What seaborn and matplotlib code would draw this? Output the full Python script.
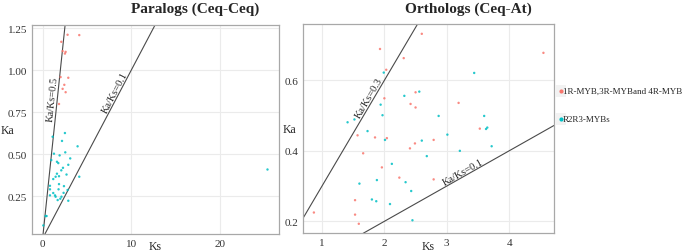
import numpy as np
import pandas as pd
import matplotlib
matplotlib.use("Agg")
import matplotlib.pyplot as plt
from matplotlib.patches import Rectangle
import seaborn as sns

# Groups
groups = ['1R-MYB,3R-MYBand 4R-MYB', 'R2R3-MYBs']
colors = ['#F8766D', '#00BFC4']

# Paralogs (Ceq-Ceq)
para_ks_other = [2.82, 4.14, 2.11, 2.26, 2.60, 2.52, 2.03, 2.90, 2.45, 2.26, 2.60, 1.85]
para_ka_other = [1.212, 1.21, 1.17, 1.115, 1.11, 1.10, 0.96, 0.956, 0.914, 0.89, 0.87, 0.80]
para_ks_r2r3 = [2.52, 1.13, 2.19, 3.95, 2.56, 1.28, 1.92, 3.12, 0.98, 1.62, 1.77, 2.90,
                2.30, 2.11, 4.14, 2.70, 1.62, 1.85, 1.47, 1.20, 1.85, 0.83, 2.41, 0.83,
                1.80, 2.82, 1.20, 2.37, 0.83, 1.40, 1.47, 2.13, 2.00, 1.70, 2.90, 0.45,
                0.34, 0.08, 25.4]
para_ka_r2r3 = [0.627, 0.605, 0.58, 0.548, 0.512, 0.504, 0.494, 0.476, 0.466, 0.456, 0.448, 0.438,
                0.42, 0.405, 0.367, 0.38, 0.385, 0.37, 0.367, 0.353, 0.323, 0.313, 0.311, 0.292,
                0.292, 0.288, 0.27, 0.271, 0.256, 0.256, 0.248, 0.248, 0.236, 0.228, 0.224, 0.133,
                0.133, 0.077, 0.41]

# Orthologs (Ceq-At)
orth_ks_other = [2.60, 1.93, 2.31, 2.03, 2.50, 2.00, 2.42, 2.50, 1.57, 1.85, 2.04, 2.49, 2.41,
                 1.66, 1.96, 2.24, 1.53, 1.53, 1.59, 0.87, 4.55, 3.19, 3.53, 2.79, 2.79]
orth_ka_other = [0.732, 0.689, 0.663, 0.630, 0.566, 0.549, 0.533, 0.523, 0.444, 0.438, 0.436, 0.421, 0.407,
                 0.393, 0.353, 0.324, 0.26, 0.219, 0.193, 0.225, 0.678, 0.536, 0.463, 0.431, 0.319]
orth_ks_r2r3 = [1.99, 2.56, 2.32, 1.94, 1.97, 1.52, 1.41, 1.73, 2.01, 2.60, 2.68, 2.12, 1.88, 2.34,
                1.60, 2.43, 1.80, 1.87, 2.09, 2.45, 3.44, 2.87, 3.60, 3.65, 3.63, 3.01, 3.72, 3.21]
orth_ka_r2r3 = [0.622, 0.568, 0.556, 0.531, 0.501, 0.489, 0.481, 0.456, 0.431, 0.429, 0.385, 0.363, 0.317, 0.311,
                0.307, 0.286, 0.262, 0.257, 0.249, 0.203, 0.621, 0.499, 0.499, 0.466, 0.462, 0.446, 0.413, 0.40]

para = pd.concat([
    pd.DataFrame({'Ks': para_ks_other, 'Ka': para_ka_other, 'Group': groups[0]}),
    pd.DataFrame({'Ks': para_ks_r2r3, 'Ka': para_ka_r2r3, 'Group': groups[1]}),
], ignore_index=True)
orth = pd.concat([
    pd.DataFrame({'Ks': orth_ks_other, 'Ka': orth_ka_other, 'Group': groups[0]}),
    pd.DataFrame({'Ks': orth_ks_r2r3, 'Ka': orth_ka_r2r3, 'Group': groups[1]}),
], ignore_index=True)

sns.set_style('white')
plt.rcParams['font.family'] = ['Liberation Serif', 'DejaVu Serif']

fig = plt.figure(figsize=(6.85, 2.53), dpi=100)
ax1 = fig.add_axes([0.0467, 0.0711, 0.3606, 0.8261])
ax2 = fig.add_axes([0.4423, 0.0739, 0.3665, 0.8261])

palette = dict(zip(groups, colors))
for ax, df in [(ax1, para), (ax2, orth)]:
    sns.scatterplot(data=df, x='Ks', y='Ka', hue='Group', palette=palette,
                    s=3, linewidth=0, alpha=0.85, legend=False, ax=ax, zorder=3)

# Ka/Ks ratio lines, label position given as Ks along the line
ratio_lines = [
    (ax1, 0.5, 1.66), (ax1, 0.1, 8.6),
    (ax2, 0.3, 1.82), (ax2, 0.1, 3.29),
]

ax1.set_xlim(-1.2, 26.7)
ax1.set_ylim(0.026, 1.27)
ax1.set_xticks([0, 10, 20])
ax1.set_yticks([0.25, 0.5, 0.75, 1.0, 1.25])
ax1.set_yticklabels(['0.25', '0.50', '0.75', '1.00', '1.25'])

ax2.set_xlim(0.695, 4.72)
ax2.set_ylim(0.166, 0.759)
ax2.set_xticks([1, 2, 3, 4])
ax2.set_yticks([0.2, 0.4, 0.6])

for ax, ratio, ks_lab in ratio_lines:
    ax.axline((0, 0), slope=ratio, color='#4a4a4a', lw=0.8, zorder=2)
    ax.text(ks_lab, ratio * ks_lab, f'Ka/Ks={ratio}', fontsize=7.5,
            rotation=np.degrees(np.arctan(ratio)), transform_rotates_text=True,
            rotation_mode='anchor', ha='center', va='bottom', zorder=4)

for ax in [ax1, ax2]:
    ax.grid(True, color='#EBEBEB', lw=0.8, zorder=0)
    ax.set_axisbelow(True)
    for sp in ax.spines.values():
        sp.set_color('#A8A8A8')
        sp.set_linewidth(0.9)
    ax.tick_params(axis='both', length=2, width=0.6, color='#A8A8A8',
                   labelsize=8, labelcolor='#333333', pad=1.5)
    ax.set_xlabel('Ks', fontsize=8.5)
    ax.set_ylabel('Ka', fontsize=8.5, rotation=0, va='center')

ax1.yaxis.set_label_coords(-0.1, 0.5)
ax2.yaxis.set_label_coords(-0.055, 0.5)
ax1.xaxis.set_label_coords(0.5, -0.03)
ax2.xaxis.set_label_coords(0.5, -0.03)

fig.text(195 / 685, 1 - 9 / 253, 'Paralogs (Ceq-Ceq)', fontsize=11, fontweight='bold',
         ha='center', va='center')
fig.text(468 / 685, 1 - 9 / 253, 'Orthologs (Ceq-At)', fontsize=11, fontweight='bold',
         ha='center', va='center')

# Legend with grey key backgrounds
for i, (g, c) in enumerate(zip(groups, colors)):
    yc = 1 - (92 + 28 * i) / 253
    fig.add_artist(Rectangle((555 / 685, yc - 6 / 253), 11 / 685, 12 / 253,
                             transform=fig.transFigure, facecolor='#F2F2F2',
                             edgecolor='none'))
    fig.add_artist(plt.Line2D([560.5 / 685], [yc], marker='o', markersize=2,
                              color=c, lw=0, transform=fig.transFigure))
    fig.text(563 / 685, yc, g, fontsize=6.5, ha='left', va='center')

fig.savefig('out.png', dpi=100)
